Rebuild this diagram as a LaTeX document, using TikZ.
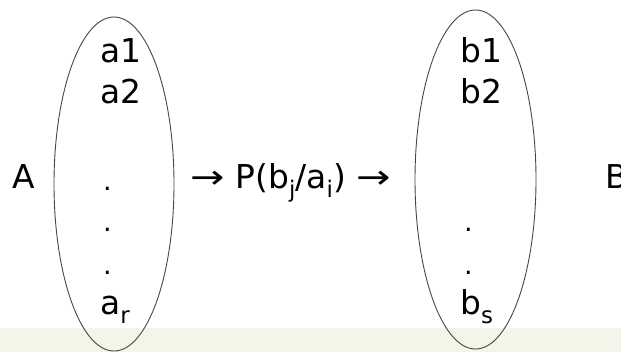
\documentclass[tikz,border=0pt]{standalone}
\usepackage{fontspec}
\setmainfont{DejaVu Sans}
\usetikzlibrary{shapes.geometric}
\definecolor{band}{RGB}{244,244,232}
\definecolor{edge}{RGB}{70,70,70}
\newcommand{\subx}[1]{\raisebox{-0.28em}{\fontsize{23}{23}\selectfont #1}}
\newcommand{\arr}{\scalebox{1.25}[1]{→}}
\begin{document}
\begin{tikzpicture}[x=1bp,y=-1bp,
  lbl/.style={font=\fontsize{33}{40}\selectfont, inner sep=0pt, anchor=base west},
  dotlbl/.style={font=\fontsize{27}{30}\selectfont, inner sep=0pt, anchor=base west},
  setshape/.style={draw=edge, line width=0.9bp, ellipse, inner sep=0pt}]
\useasboundingbox (0,0) rectangle (621,352);
\fill[band] (0,328) rectangle (621,352);
\node[setshape, minimum width=120bp, minimum height=334bp] (SA) at (114,184) {};
\node[setshape, minimum width=121bp, minimum height=339bp] (SB) at (475.5,179.5) {};
\node[lbl] (A) at (12,188) {A};
\node[lbl] (B) at (605,188) {B};
\node[lbl] (a1) at (100,62) {a1};
\node[lbl] (a2) at (100,103) {a2};
\node[dotlbl] (ad1) at (103,190) {.};
\node[dotlbl] (ad2) at (103,231) {.};
\node[dotlbl] (ad3) at (103,274) {.};
\node[lbl] (ar) at (100,314) {a\subx{r}};
\node[lbl] (b1) at (460,62) {b1};
\node[lbl] (b2) at (460,103) {b2};
\node[dotlbl] (bd1) at (464,231) {.};
\node[dotlbl] (bd2) at (464,274) {.};
\node[lbl] (bs) at (460,314) {b\subx{s}};
\node[lbl] (P) at (190,188) {\arr\hspace{11bp}P(b\subx{j}/a\subx{i})\hspace{11bp}\arr};
\end{tikzpicture}
\end{document}
